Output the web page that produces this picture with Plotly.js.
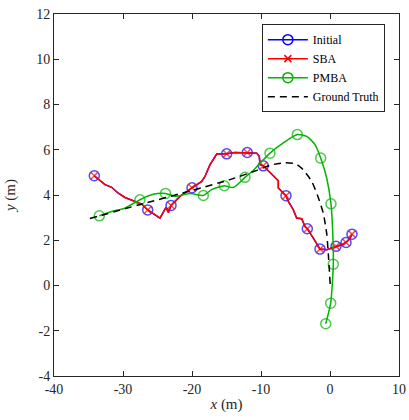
<!DOCTYPE html>
<html>
<head>
<meta charset="utf-8">
<script src="https://cdn.plot.ly/plotly-3.0.1.min.js"></script>
<style>html,body{margin:0;padding:0;background:#fff;}#chart{width:409px;height:420px;}</style>
</head>
<body>
<div id="chart"></div>
<script>
// SBA refined trajectory (Initial coincides with it)
const sbaX = [-34.16,-32.61,-31.64,-30.68,-29.71,-28.26,-27.29,-26.42,-24.64,-23.77,-23.41,-23.04,-21.74,-20.0,-18.59,-18.12,-17.39,-16.42,-14.97,-13.77,-11.99,-10.62,-10.25,-10.14,-9.67,-8.45,-7.49,-7.49,-6.38,-6.04,-5.32,-4.83,-4.10,-3.62,-3.29,-2.42,-1.45,-0.48,0.25,0.87,1.70,2.32,2.90,3.19];
const sbaY = [4.85,4.46,4.34,4.08,3.89,3.72,3.60,3.34,2.98,3.45,3.23,3.54,3.94,4.32,4.60,4.82,5.34,5.81,5.82,5.88,5.88,5.85,5.71,5.34,5.29,4.90,4.63,4.31,3.97,3.72,3.35,2.98,2.95,2.61,2.51,2.09,1.61,1.58,1.65,1.73,1.80,1.90,2.09,2.27];
const sbaKeyIdx = [0,7,11,13,18,20,24,28,34,36,39,41,43];

// PMBA trajectory
const pmbaX = [-33.43,-31.64,-29.71,-27.54,-25.65,-23.84,-22.46,-20.29,-18.36,-17.1,-15.32,-14.01,-12.32,-11.3,-10.43,-8.70,-6.77,-4.74,-3.38,-2.17,-1.35,-0.48,0.14,0.39,0.48,0.10,-0.62];
const pmbaY = [3.08,3.27,3.42,3.79,4.03,4.07,3.94,4.07,3.98,4.25,4.41,4.33,4.78,5.04,5.31,5.85,6.30,6.67,6.59,6.23,5.63,4.75,3.61,2.39,0.94,-0.78,-1.69];
const pmbaKeyIdx = [0,3,5,8,10,12,15,17,20,22,24,25,26];

// Ground truth
const gtX = [-34.8,-27.5,-20.0,-14.5,-10.5,-8.5,-6.5,-5.0,-3.9,-2.65,-1.7,-0.97,-0.48,-0.22,0.03];
const gtY = [2.96,3.58,4.2,4.68,5.1,5.33,5.42,5.38,5.12,4.6,3.89,3.19,2.3,1.28,0.04];

const seriesNames = ['Initial','SBA','PMBA','Ground Truth'];
const xTickVals = [-40,-30,-20,-10,0,10];
const xTickText = ['-40','-30','-20','-10','0','10'];
const yTickVals = [-4,-2,0,2,4,6,8,10,12];
const yTickText = ['-4','-2','0','2','4','6','8','10','12'];

function keyArr(n, keys, onVal, offVal){
  const a = new Array(n).fill(offVal);
  keys.forEach(k => a[k] = onVal);
  return a;
}

const BLUE = '#0000ff', RED = '#ff0000', GREEN = '#00b400';
const nS = sbaX.length, nP = pmbaX.length;
const LW = 1.5, CIRC = 10, XS = 7;

const styles = [
  {line: {color: BLUE, width: LW}, marker: {symbol: 'circle-open', color: BLUE, size: CIRC, line: {color: BLUE, width: LW}}, mode: 'lines+markers'},
  {line: {color: RED, width: LW}, marker: {symbol: 'x-thin-open', color: RED, size: XS, line: {color: RED, width: LW}}, mode: 'lines+markers'},
  {line: {color: GREEN, width: LW}, marker: {symbol: 'circle-open', color: GREEN, size: CIRC, line: {color: GREEN, width: LW}}, mode: 'lines+markers'},
  {line: {color: '#000', width: LW, dash: '7px,5px'}, mode: 'lines'}
];

const traces = [
  {
    x: sbaX, y: sbaY, mode: 'lines+markers', showlegend: false,
    line: {color: BLUE, width: LW},
    marker: {symbol: 'circle-open', color: BLUE, size: keyArr(nS, sbaKeyIdx, CIRC, 0),
             line: {color: BLUE, width: keyArr(nS, sbaKeyIdx, LW, 0)}}
  },
  {
    x: sbaX, y: sbaY, mode: 'lines+markers', showlegend: false,
    line: {color: RED, width: LW},
    marker: {symbol: 'x-thin-open', color: RED, size: keyArr(nS, sbaKeyIdx, XS, 0),
             line: {color: RED, width: keyArr(nS, sbaKeyIdx, LW, 0)}}
  },
  {
    x: pmbaX, y: pmbaY, mode: 'lines+markers', showlegend: false,
    line: {color: GREEN, width: LW, shape: 'spline', smoothing: 0.6},
    marker: {symbol: 'circle-open', color: GREEN, size: keyArr(nP, pmbaKeyIdx, CIRC, 0),
             line: {color: GREEN, width: keyArr(nP, pmbaKeyIdx, LW, 0)}}
  },
  {
    x: gtX, y: gtY, mode: 'lines', showlegend: false,
    line: {color: '#000000', width: LW, dash: '7px,5px', shape: 'spline', smoothing: 0.6}
  }
];
// legend entries
seriesNames.forEach((nm, i) => {
  traces.push(Object.assign({name: nm, x: [null], y: [null], showlegend: true}, styles[i]));
});

const serif = "'Liberation Serif', 'Times New Roman', serif";
const axisFont = {family: serif, size: 14, color: '#262626'};
const common = {
  showgrid: false, zeroline: false, showline: true, linecolor: '#262626', linewidth: 1,
  mirror: 'ticks', ticks: 'inside', ticklen: 5, tickwidth: 1, tickcolor: '#262626',
  tickfont: axisFont, tickmode: 'array'
};

const layout = {
  width: 409, height: 420,
  margin: {l: 54, r: 10, t: 14, b: 44},
  paper_bgcolor: '#fff', plot_bgcolor: '#fff',
  showlegend: true,
  xaxis: Object.assign({}, common, {
    range: [-40, 10], tickvals: xTickVals, ticktext: xTickText, ticklabelstandoff: 0,
    title: {text: '<i>x</i> (m)', font: {family: serif, size: 15, color: '#262626'}, standoff: 2}
  }),
  yaxis: Object.assign({}, common, {
    range: [-4, 12], tickvals: yTickVals, ticktext: yTickText,
    title: {text: '<i>y</i> (m)', font: {family: serif, size: 15, color: '#262626'}, standoff: 16}
  }),
  legend: {
    x: 0.959, y: 0.972, xanchor: 'right', yanchor: 'top',
    bgcolor: '#fff', bordercolor: '#262626', borderwidth: 1,
    font: {family: serif, size: 12, color: '#000'},
    tracegroupgap: 0, itemwidth: 40
  }
};

Plotly.newPlot('chart', traces, layout, {staticPlot: true, displayModeBar: false});
</script>
</body>
</html>
